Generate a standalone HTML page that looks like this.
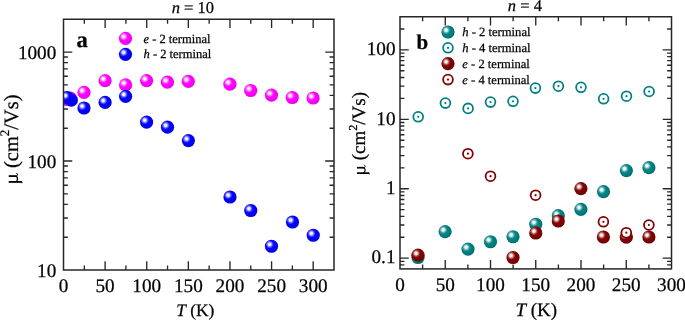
<!DOCTYPE html>
<html><head><meta charset="utf-8"><style>
html,body{margin:0;padding:0;background:#fff;width:685px;height:320px;overflow:hidden;}
svg{display:block;font-family:"Liberation Serif",serif;}
</style></head><body>
<svg width="685" height="320" viewBox="0 0 685 320">
<defs>
<radialGradient id="gp" cx="0.42" cy="0.42" r="0.62"><stop offset="0" stop-color="#ff10ff"/><stop offset="0.55" stop-color="#ff00ff"/><stop offset="1" stop-color="#e800e8"/></radialGradient>
<radialGradient id="gb" cx="0.42" cy="0.42" r="0.62"><stop offset="0" stop-color="#1010ff"/><stop offset="0.55" stop-color="#0000ff"/><stop offset="1" stop-color="#0000e0"/></radialGradient>
<radialGradient id="gt" cx="0.42" cy="0.42" r="0.62"><stop offset="0" stop-color="#0a8a8a"/><stop offset="0.55" stop-color="#008080"/><stop offset="1" stop-color="#006c6c"/></radialGradient>
<radialGradient id="gr" cx="0.42" cy="0.42" r="0.62"><stop offset="0" stop-color="#8a0808"/><stop offset="0.55" stop-color="#800000"/><stop offset="1" stop-color="#6a0000"/></radialGradient>
<radialGradient id="hl"><stop offset="0" stop-color="#fff" stop-opacity="1"/><stop offset="0.3" stop-color="#fff" stop-opacity="0.92"/><stop offset="0.65" stop-color="#fff" stop-opacity="0.35"/><stop offset="1" stop-color="#fff" stop-opacity="0"/></radialGradient>
<clipPath id="ca"><rect x="63.50" y="19.25" width="270.50" height="250.75"/></clipPath>
<clipPath id="cb"><rect x="400.00" y="16.75" width="271.50" height="252.15"/></clipPath>
</defs>
<rect width="685" height="320" fill="#fff"/>
<g font-family="Liberation Serif" fill="#000" text-rendering="geometricPrecision" opacity="0.995">
<style>text{stroke:#000;stroke-width:0.25px;}</style>
<path d="M84.31 270.00V265.60M84.31 19.25V23.65M105.12 270.00V261.20M105.12 19.25V28.05M125.92 270.00V265.60M125.92 19.25V23.65M146.73 270.00V261.20M146.73 19.25V28.05M167.54 270.00V265.60M167.54 19.25V23.65M188.35 270.00V261.20M188.35 19.25V28.05M209.15 270.00V265.60M209.15 19.25V23.65M229.96 270.00V261.20M229.96 19.25V28.05M250.77 270.00V265.60M250.77 19.25V23.65M271.58 270.00V261.20M271.58 19.25V28.05M292.38 270.00V265.60M292.38 19.25V23.65M313.19 270.00V261.20M313.19 19.25V28.05" stroke="#262626" stroke-width="1.35" fill="none"/>
<path d="M63.50 237.20H67.90M334.00 237.20H329.60M63.50 218.01H67.90M334.00 218.01H329.60M63.50 204.39H67.90M334.00 204.39H329.60M63.50 193.83H67.90M334.00 193.83H329.60M63.50 185.20H67.90M334.00 185.20H329.60M63.50 177.91H67.90M334.00 177.91H329.60M63.50 171.59H67.90M334.00 171.59H329.60M63.50 166.01H67.90M334.00 166.01H329.60M63.50 161.03H72.30M334.00 161.03H325.20M63.50 128.22H67.90M334.00 128.22H329.60M63.50 109.03H67.90M334.00 109.03H329.60M63.50 95.42H67.90M334.00 95.42H329.60M63.50 84.86H67.90M334.00 84.86H329.60M63.50 76.23H67.90M334.00 76.23H329.60M63.50 68.93H67.90M334.00 68.93H329.60M63.50 62.61H67.90M334.00 62.61H329.60M63.50 57.04H67.90M334.00 57.04H329.60M63.50 52.05H72.30M334.00 52.05H325.20" stroke="#262626" stroke-width="1.35" fill="none"/>
<g clip-path="url(#ca)">
<circle cx="66.30" cy="99.30" r="6.60" fill="url(#gp)"/><circle cx="64.40" cy="97.40" r="4.20" fill="url(#hl)"/>
<circle cx="70.20" cy="98.00" r="6.60" fill="url(#gp)"/><circle cx="68.30" cy="96.10" r="4.20" fill="url(#hl)"/>
<circle cx="84.00" cy="92.40" r="6.60" fill="url(#gp)"/><circle cx="82.10" cy="90.50" r="4.20" fill="url(#hl)"/>
<circle cx="105.10" cy="80.70" r="6.60" fill="url(#gp)"/><circle cx="103.20" cy="78.80" r="4.20" fill="url(#hl)"/>
<circle cx="125.60" cy="84.90" r="6.60" fill="url(#gp)"/><circle cx="123.70" cy="83.00" r="4.20" fill="url(#hl)"/>
<circle cx="146.60" cy="80.70" r="6.60" fill="url(#gp)"/><circle cx="144.70" cy="78.80" r="4.20" fill="url(#hl)"/>
<circle cx="167.40" cy="82.20" r="6.60" fill="url(#gp)"/><circle cx="165.50" cy="80.30" r="4.20" fill="url(#hl)"/>
<circle cx="188.30" cy="81.40" r="6.60" fill="url(#gp)"/><circle cx="186.40" cy="79.50" r="4.20" fill="url(#hl)"/>
<circle cx="229.90" cy="84.20" r="6.60" fill="url(#gp)"/><circle cx="228.00" cy="82.30" r="4.20" fill="url(#hl)"/>
<circle cx="250.70" cy="90.50" r="6.60" fill="url(#gp)"/><circle cx="248.80" cy="88.60" r="4.20" fill="url(#hl)"/>
<circle cx="271.50" cy="95.10" r="6.60" fill="url(#gp)"/><circle cx="269.60" cy="93.20" r="4.20" fill="url(#hl)"/>
<circle cx="292.30" cy="97.50" r="6.60" fill="url(#gp)"/><circle cx="290.40" cy="95.60" r="4.20" fill="url(#hl)"/>
<circle cx="313.10" cy="98.00" r="6.60" fill="url(#gp)"/><circle cx="311.20" cy="96.10" r="4.20" fill="url(#hl)"/>
<circle cx="71.30" cy="100.20" r="6.60" fill="url(#gb)"/><circle cx="69.40" cy="98.30" r="4.20" fill="url(#hl)"/>
<circle cx="67.10" cy="97.50" r="6.60" fill="url(#gb)"/><circle cx="65.20" cy="95.60" r="4.20" fill="url(#hl)"/>
<circle cx="84.00" cy="108.00" r="6.60" fill="url(#gb)"/><circle cx="82.10" cy="106.10" r="4.20" fill="url(#hl)"/>
<circle cx="105.10" cy="102.40" r="6.60" fill="url(#gb)"/><circle cx="103.20" cy="100.50" r="4.20" fill="url(#hl)"/>
<circle cx="125.60" cy="96.30" r="6.60" fill="url(#gb)"/><circle cx="123.70" cy="94.40" r="4.20" fill="url(#hl)"/>
<circle cx="146.60" cy="122.10" r="6.60" fill="url(#gb)"/><circle cx="144.70" cy="120.20" r="4.20" fill="url(#hl)"/>
<circle cx="167.50" cy="127.20" r="6.60" fill="url(#gb)"/><circle cx="165.60" cy="125.30" r="4.20" fill="url(#hl)"/>
<circle cx="188.40" cy="140.60" r="6.60" fill="url(#gb)"/><circle cx="186.50" cy="138.70" r="4.20" fill="url(#hl)"/>
<circle cx="230.00" cy="197.00" r="6.60" fill="url(#gb)"/><circle cx="228.10" cy="195.10" r="4.20" fill="url(#hl)"/>
<circle cx="250.75" cy="210.50" r="6.60" fill="url(#gb)"/><circle cx="248.85" cy="208.60" r="4.20" fill="url(#hl)"/>
<circle cx="271.50" cy="246.25" r="6.60" fill="url(#gb)"/><circle cx="269.60" cy="244.35" r="4.20" fill="url(#hl)"/>
<circle cx="292.50" cy="222.00" r="6.60" fill="url(#gb)"/><circle cx="290.60" cy="220.10" r="4.20" fill="url(#hl)"/>
<circle cx="313.25" cy="235.25" r="6.60" fill="url(#gb)"/><circle cx="311.35" cy="233.35" r="4.20" fill="url(#hl)"/>
</g>
<rect x="63.50" y="19.25" width="270.50" height="250.75" fill="none" stroke="#262626" stroke-width="1.5"/>
<text x="63.50" y="292.00" font-size="19.2" text-anchor="middle" >0</text>
<text x="105.12" y="292.00" font-size="19.2" text-anchor="middle" >50</text>
<text x="146.73" y="292.00" font-size="19.2" text-anchor="middle" >100</text>
<text x="188.35" y="292.00" font-size="19.2" text-anchor="middle" >150</text>
<text x="229.96" y="292.00" font-size="19.2" text-anchor="middle" >200</text>
<text x="271.58" y="292.00" font-size="19.2" text-anchor="middle" >250</text>
<text x="313.19" y="292.00" font-size="19.2" text-anchor="middle" >300</text>
<text x="56.30" y="276.60" font-size="19.2" text-anchor="end" >10</text>
<text x="56.30" y="167.63" font-size="19.2" text-anchor="end" >100</text>
<text x="56.30" y="58.65" font-size="19.2" text-anchor="end" >1000</text>
<circle cx="125.50" cy="38.40" r="6.60" fill="url(#gp)"/><circle cx="123.60" cy="36.50" r="4.20" fill="url(#hl)"/>
<circle cx="125.50" cy="54.30" r="6.60" fill="url(#gb)"/><circle cx="123.60" cy="52.40" r="4.20" fill="url(#hl)"/>
<text x="143.50" y="42.60" font-size="12.5" text-anchor="start" ><tspan font-style="italic">e</tspan> - 2 terminal</text>
<text x="143.50" y="58.40" font-size="12.5" text-anchor="start" ><tspan font-style="italic">h</tspan> - 2 terminal</text>
<text x="76.50" y="46.60" font-size="22.5" text-anchor="start" font-weight="bold">a</text>
<text x="192.80" y="12.90" font-size="16.5" text-anchor="middle" ><tspan font-style="italic">n</tspan> = 10</text>
<text x="195.30" y="315.70" font-size="17.4" text-anchor="middle" ><tspan font-style="italic">T</tspan> (K)</text>
<g transform="translate(17.60 183.80) rotate(-90)">
<g transform="scale(1.0000)" fill="none" stroke="#000" stroke-linecap="butt"><path d="M1.9 -8.9V4.3" stroke-width="1.85"/><path d="M7.7 -8.9V-1.3" stroke-width="1.85"/><path d="M1.9 -2.2C2.4 0.2 6.4 0.6 7.7 -1.4" stroke-width="1.3"/><path d="M7.4 -1.6C7.9 0.3 9.7 0.3 10.8 -1.2" stroke-width="1.0"/><path d="M2.2 3.6C2.0 4.5 1.2 4.7 0.5 4.4" stroke-width="0.9"/></g>
<text x="15.88" y="0" font-size="20.4">(cm<tspan font-size="13.06" dy="-8.36">2</tspan><tspan dy="8.36">/Vs)</tspan></text>
</g>
<path d="M422.62 268.90V264.50M422.62 16.75V21.15M445.25 268.90V260.10M445.25 16.75V25.55M467.88 268.90V264.50M467.88 16.75V21.15M490.50 268.90V260.10M490.50 16.75V25.55M513.12 268.90V264.50M513.12 16.75V21.15M535.75 268.90V260.10M535.75 16.75V25.55M558.38 268.90V264.50M558.38 16.75V21.15M581.00 268.90V260.10M581.00 16.75V25.55M603.62 268.90V264.50M603.62 16.75V21.15M626.25 268.90V260.10M626.25 16.75V25.55M648.88 268.90V264.50M648.88 16.75V21.15" stroke="#262626" stroke-width="1.35" fill="none"/>
<path d="M400.00 264.87H404.40M671.50 264.87H667.10M400.00 261.32H404.40M671.50 261.32H667.10M400.00 258.15H408.80M671.50 258.15H662.70M400.00 237.25H404.40M671.50 237.25H667.10M400.00 225.02H404.40M671.50 225.02H667.10M400.00 216.35H404.40M671.50 216.35H667.10M400.00 209.62H404.40M671.50 209.62H667.10M400.00 204.12H404.40M671.50 204.12H667.10M400.00 199.48H404.40M671.50 199.48H667.10M400.00 195.45H404.40M671.50 195.45H667.10M400.00 191.90H404.40M671.50 191.90H667.10M400.00 188.72H408.80M671.50 188.72H662.70M400.00 167.82H404.40M671.50 167.82H667.10M400.00 155.60H404.40M671.50 155.60H667.10M400.00 146.92H404.40M671.50 146.92H667.10M400.00 140.20H404.40M671.50 140.20H667.10M400.00 134.70H404.40M671.50 134.70H667.10M400.00 130.05H404.40M671.50 130.05H667.10M400.00 126.03H404.40M671.50 126.03H667.10M400.00 122.47H404.40M671.50 122.47H667.10M400.00 119.30H408.80M671.50 119.30H662.70M400.00 98.40H404.40M671.50 98.40H667.10M400.00 86.17H404.40M671.50 86.17H667.10M400.00 77.50H404.40M671.50 77.50H667.10M400.00 70.77H404.40M671.50 70.77H667.10M400.00 65.28H404.40M671.50 65.28H667.10M400.00 60.63H404.40M671.50 60.63H667.10M400.00 56.60H404.40M671.50 56.60H667.10M400.00 53.05H404.40M671.50 53.05H667.10M400.00 49.87H408.80M671.50 49.87H662.70M400.00 28.97H404.40M671.50 28.97H667.10" stroke="#262626" stroke-width="1.35" fill="none"/>
<g clip-path="url(#cb)">
<circle cx="418.00" cy="257.50" r="6.60" fill="url(#gt)"/><circle cx="416.10" cy="255.60" r="4.20" fill="url(#hl)"/>
<circle cx="445.10" cy="231.70" r="6.60" fill="url(#gt)"/><circle cx="443.20" cy="229.80" r="4.20" fill="url(#hl)"/>
<circle cx="468.00" cy="249.10" r="6.60" fill="url(#gt)"/><circle cx="466.10" cy="247.20" r="4.20" fill="url(#hl)"/>
<circle cx="490.50" cy="241.75" r="6.60" fill="url(#gt)"/><circle cx="488.60" cy="239.85" r="4.20" fill="url(#hl)"/>
<circle cx="513.00" cy="236.75" r="6.60" fill="url(#gt)"/><circle cx="511.10" cy="234.85" r="4.20" fill="url(#hl)"/>
<circle cx="535.75" cy="224.25" r="6.60" fill="url(#gt)"/><circle cx="533.85" cy="222.35" r="4.20" fill="url(#hl)"/>
<circle cx="558.30" cy="215.70" r="6.60" fill="url(#gt)"/><circle cx="556.40" cy="213.80" r="4.20" fill="url(#hl)"/>
<circle cx="580.90" cy="209.30" r="6.60" fill="url(#gt)"/><circle cx="579.00" cy="207.40" r="4.20" fill="url(#hl)"/>
<circle cx="603.50" cy="191.70" r="6.60" fill="url(#gt)"/><circle cx="601.60" cy="189.80" r="4.20" fill="url(#hl)"/>
<circle cx="626.40" cy="170.60" r="6.60" fill="url(#gt)"/><circle cx="624.50" cy="168.70" r="4.20" fill="url(#hl)"/>
<circle cx="648.90" cy="167.70" r="6.60" fill="url(#gt)"/><circle cx="647.00" cy="165.80" r="4.20" fill="url(#hl)"/>
<circle cx="418.20" cy="116.80" r="4.9" fill="#fff" stroke="#008080" stroke-width="1.8"/><circle cx="418.20" cy="116.80" r="1.1" fill="#008080"/>
<circle cx="445.40" cy="103.10" r="4.9" fill="#fff" stroke="#008080" stroke-width="1.8"/><circle cx="445.40" cy="103.10" r="1.1" fill="#008080"/>
<circle cx="468.10" cy="108.40" r="4.9" fill="#fff" stroke="#008080" stroke-width="1.8"/><circle cx="468.10" cy="108.40" r="1.1" fill="#008080"/>
<circle cx="490.50" cy="102.10" r="4.9" fill="#fff" stroke="#008080" stroke-width="1.8"/><circle cx="490.50" cy="102.10" r="1.1" fill="#008080"/>
<circle cx="513.00" cy="101.30" r="4.9" fill="#fff" stroke="#008080" stroke-width="1.8"/><circle cx="513.00" cy="101.30" r="1.1" fill="#008080"/>
<circle cx="535.40" cy="88.10" r="4.9" fill="#fff" stroke="#008080" stroke-width="1.8"/><circle cx="535.40" cy="88.10" r="1.1" fill="#008080"/>
<circle cx="558.40" cy="86.20" r="4.9" fill="#fff" stroke="#008080" stroke-width="1.8"/><circle cx="558.40" cy="86.20" r="1.1" fill="#008080"/>
<circle cx="581.00" cy="87.30" r="4.9" fill="#fff" stroke="#008080" stroke-width="1.8"/><circle cx="581.00" cy="87.30" r="1.1" fill="#008080"/>
<circle cx="603.60" cy="98.80" r="4.9" fill="#fff" stroke="#008080" stroke-width="1.8"/><circle cx="603.60" cy="98.80" r="1.1" fill="#008080"/>
<circle cx="626.50" cy="96.20" r="4.9" fill="#fff" stroke="#008080" stroke-width="1.8"/><circle cx="626.50" cy="96.20" r="1.1" fill="#008080"/>
<circle cx="649.10" cy="91.50" r="4.9" fill="#fff" stroke="#008080" stroke-width="1.8"/><circle cx="649.10" cy="91.50" r="1.1" fill="#008080"/>
<circle cx="418.00" cy="255.20" r="6.60" fill="url(#gr)"/><circle cx="416.10" cy="253.30" r="4.20" fill="url(#hl)"/>
<circle cx="513.00" cy="257.50" r="6.60" fill="url(#gr)"/><circle cx="511.10" cy="255.60" r="4.20" fill="url(#hl)"/>
<circle cx="535.75" cy="233.00" r="6.60" fill="url(#gr)"/><circle cx="533.85" cy="231.10" r="4.20" fill="url(#hl)"/>
<circle cx="558.30" cy="221.00" r="6.60" fill="url(#gr)"/><circle cx="556.40" cy="219.10" r="4.20" fill="url(#hl)"/>
<circle cx="580.90" cy="188.60" r="6.60" fill="url(#gr)"/><circle cx="579.00" cy="186.70" r="4.20" fill="url(#hl)"/>
<circle cx="603.40" cy="237.00" r="6.60" fill="url(#gr)"/><circle cx="601.50" cy="235.10" r="4.20" fill="url(#hl)"/>
<circle cx="626.30" cy="237.20" r="6.60" fill="url(#gr)"/><circle cx="624.40" cy="235.30" r="4.20" fill="url(#hl)"/>
<circle cx="648.90" cy="237.00" r="6.60" fill="url(#gr)"/><circle cx="647.00" cy="235.10" r="4.20" fill="url(#hl)"/>
<circle cx="467.90" cy="153.70" r="4.9" fill="#fff" stroke="#800000" stroke-width="1.8"/><circle cx="467.90" cy="153.70" r="1.1" fill="#800000"/>
<circle cx="490.50" cy="176.20" r="4.9" fill="#fff" stroke="#800000" stroke-width="1.8"/><circle cx="490.50" cy="176.20" r="1.1" fill="#800000"/>
<circle cx="535.60" cy="195.20" r="4.9" fill="#fff" stroke="#800000" stroke-width="1.8"/><circle cx="535.60" cy="195.20" r="1.1" fill="#800000"/>
<circle cx="603.40" cy="221.80" r="4.9" fill="#fff" stroke="#800000" stroke-width="1.8"/><circle cx="603.40" cy="221.80" r="1.1" fill="#800000"/>
<circle cx="626.30" cy="232.70" r="4.9" fill="#fff" stroke="#800000" stroke-width="1.8"/><circle cx="626.30" cy="232.70" r="1.1" fill="#800000"/>
<circle cx="648.90" cy="225.00" r="4.9" fill="#fff" stroke="#800000" stroke-width="1.8"/><circle cx="648.90" cy="225.00" r="1.1" fill="#800000"/>
</g>
<rect x="400.00" y="16.75" width="271.50" height="252.15" fill="none" stroke="#262626" stroke-width="1.5"/>
<text x="400.00" y="291.00" font-size="19.2" text-anchor="middle" >0</text>
<text x="445.25" y="291.00" font-size="19.2" text-anchor="middle" >50</text>
<text x="490.50" y="291.00" font-size="19.2" text-anchor="middle" >100</text>
<text x="535.75" y="291.00" font-size="19.2" text-anchor="middle" >150</text>
<text x="581.00" y="291.00" font-size="19.2" text-anchor="middle" >200</text>
<text x="626.25" y="291.00" font-size="19.2" text-anchor="middle" >250</text>
<text x="671.50" y="291.00" font-size="19.2" text-anchor="middle" >300</text>
<text x="395.50" y="263.35" font-size="19.2" text-anchor="end" >0.1</text>
<text x="395.50" y="193.92" font-size="19.2" text-anchor="end" >1</text>
<text x="395.50" y="124.50" font-size="19.2" text-anchor="end" >10</text>
<text x="395.50" y="55.07" font-size="19.2" text-anchor="end" >100</text>
<circle cx="448.00" cy="32.00" r="6.60" fill="url(#gt)"/><circle cx="446.10" cy="30.10" r="4.20" fill="url(#hl)"/>
<circle cx="448.00" cy="47.80" r="4.9" fill="#fff" stroke="#008080" stroke-width="1.8"/><circle cx="448.00" cy="47.80" r="1.1" fill="#008080"/>
<circle cx="448.00" cy="63.70" r="6.60" fill="url(#gr)"/><circle cx="446.10" cy="61.80" r="4.20" fill="url(#hl)"/>
<circle cx="448.00" cy="79.60" r="4.9" fill="#fff" stroke="#800000" stroke-width="1.8"/><circle cx="448.00" cy="79.60" r="1.1" fill="#800000"/>
<text x="462.30" y="36.20" font-size="12.6" text-anchor="start" ><tspan font-style="italic">h</tspan> - 2 terminal</text>
<text x="462.30" y="52.00" font-size="12.6" text-anchor="start" ><tspan font-style="italic">h</tspan> - 4 terminal</text>
<text x="462.30" y="67.90" font-size="12.6" text-anchor="start" ><tspan font-style="italic">e</tspan> - 2 terminal</text>
<text x="462.30" y="83.80" font-size="12.6" text-anchor="start" ><tspan font-style="italic">e</tspan> - 4 terminal</text>
<text x="416.40" y="48.70" font-size="21" text-anchor="start" font-weight="bold">b</text>
<text x="524.90" y="11.20" font-size="16.5" text-anchor="middle" ><tspan font-style="italic">n</tspan> = 4</text>
<text x="536.30" y="315.80" font-size="19" text-anchor="middle" ><tspan font-style="italic">T</tspan> (K)</text>
<g transform="translate(365.20 174.90) rotate(-90)">
<g transform="scale(0.9314)" fill="none" stroke="#000" stroke-linecap="butt"><path d="M1.9 -8.9V4.3" stroke-width="1.85"/><path d="M7.7 -8.9V-1.3" stroke-width="1.85"/><path d="M1.9 -2.2C2.4 0.2 6.4 0.6 7.7 -1.4" stroke-width="1.3"/><path d="M7.4 -1.6C7.9 0.3 9.7 0.3 10.8 -1.2" stroke-width="1.0"/><path d="M2.2 3.6C2.0 4.5 1.2 4.7 0.5 4.4" stroke-width="0.9"/></g>
<text x="14.55" y="0" font-size="19.0">(cm<tspan font-size="12.16" dy="-7.79">2</tspan><tspan dy="7.79">/Vs)</tspan></text>
</g>
</g></svg>
</body></html>
